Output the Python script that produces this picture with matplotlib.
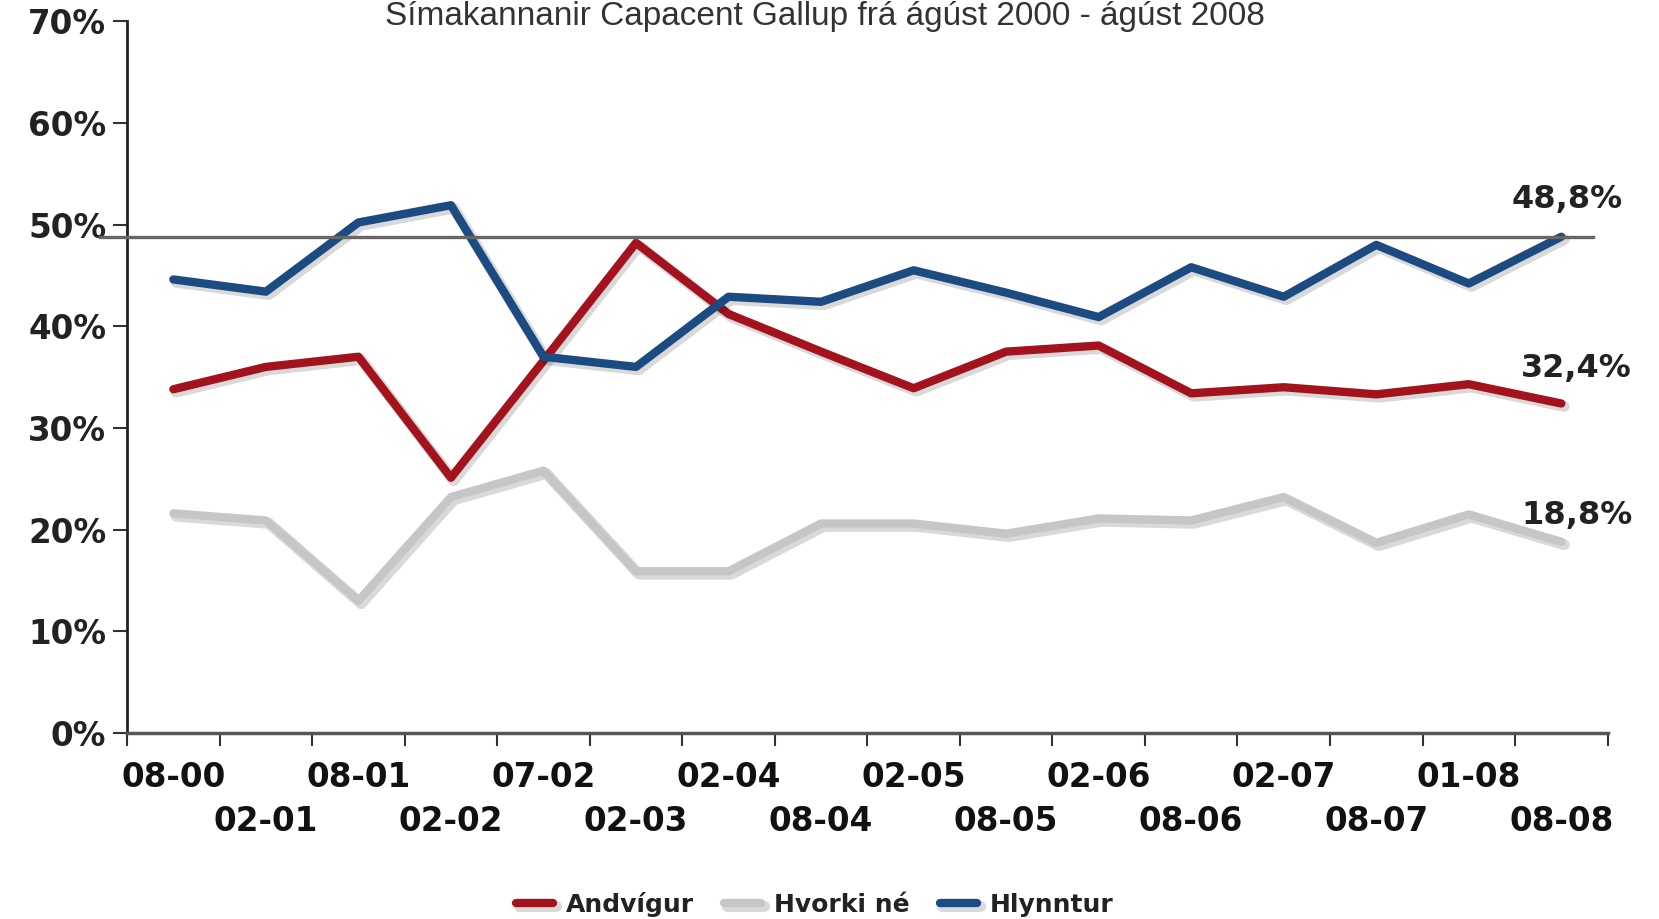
import matplotlib
matplotlib.use("Agg")
import matplotlib.pyplot as plt
import matplotlib.patheffects as pe
from matplotlib.transforms import blended_transform_factory
from matplotlib.ticker import FixedLocator

plt.rcParams['font.family'] = ['DejaVu Sans']

title = "Símakannanir Capacent Gallup frá ágúst 2000 - ágúst 2008"
categories = ["08-00", "02-01", "08-01", "02-02", "07-02", "02-03", "02-04", "08-04",
              "02-05", "08-05", "02-06", "08-06", "02-07", "08-07", "01-08", "08-08"]
andvigur = [33.8, 36.0, 37.0, 25.1, 36.6, 48.2, 41.2, 37.5, 33.9, 37.5, 38.1, 33.4, 34.0, 33.3, 34.3, 32.4]
hvorki = [21.6, 20.9, 13.0, 23.2, 25.8, 15.9, 15.9, 20.6, 20.6, 19.6, 21.1, 20.9, 23.2, 18.7, 21.5, 18.8]
hlynntur = [44.6, 43.4, 50.2, 51.9, 37.0, 36.0, 42.9, 42.4, 45.5, 43.3, 40.9, 45.8, 42.9, 48.0, 44.2, 48.8]
ref_value = 48.8
end_labels = ["48,8%", "32,4%", "18,8%"]
yticks = [0, 10, 20, 30, 40, 50, 60, 70]

fig = plt.figure(figsize=(16.59, 9.19), dpi=100)
ax = fig.add_axes([0.0766, 0.2024, 0.8924, 0.7746])

x = list(range(len(categories)))
shadow = [pe.SimpleLineShadow(offset=(2, -2), shadow_color='black', alpha=0.15, linewidth=8), pe.Normal()]

trans = blended_transform_factory(ax.transAxes, ax.transData)
ax.plot([-0.018, 0.99], [ref_value, ref_value], transform=trans, color='#666666', lw=2.4,
        clip_on=False, zorder=5)

l1, = ax.plot(x, andvigur, color='#a3131d', lw=6, solid_capstyle='round', solid_joinstyle='round',
              path_effects=shadow, label='Andvígur', zorder=3)
l2, = ax.plot(x, hvorki, color='#c6c6c6', lw=6, solid_capstyle='round', solid_joinstyle='round',
              path_effects=shadow, label='Hvorki né', zorder=3)
l3, = ax.plot(x, hlynntur, color='#1b4b80', lw=6, solid_capstyle='round', solid_joinstyle='round',
              path_effects=shadow, label='Hlynntur', zorder=4)

ax.set_xlim(-0.5, len(categories) - 0.5)
ax.set_ylim(0, 70)

for s in ['top', 'right']:
    ax.spines[s].set_visible(False)
ax.spines['left'].set_linewidth(2)
ax.spines['bottom'].set_linewidth(2.5)
ax.spines['left'].set_color('#222222')
ax.spines['bottom'].set_color('#555555')

ax.set_yticks(yticks)
ax.set_yticklabels([f"{v}%" for v in yticks], fontsize=23.5, fontweight='bold', color='#222222')
ax.tick_params(axis='y', length=10, width=1.5, pad=5, color='#333333')

# tick marks between categories
ax.xaxis.set_major_locator(FixedLocator([i - 0.5 for i in range(len(categories) + 1)]))
ax.set_xticklabels([""] * (len(categories) + 1))
ax.tick_params(axis='x', which='major', length=9, width=1.5, color='#333333')

# first row of labels (even categories)
even = x[0::2]
ax.xaxis.set_minor_locator(FixedLocator(even))
ax.set_xticklabels(categories[0::2], minor=True, fontsize=23.5, fontweight='bold', color='#111111')
ax.tick_params(axis='x', which='minor', length=0, pad=20)

# second row of labels (odd categories)
sec = ax.secondary_xaxis('bottom')
sec.spines['bottom'].set_visible(False)
sec.set_xticks(x[1::2])
sec.set_xticklabels(categories[1::2], fontsize=23.5, fontweight='bold', color='#111111')
sec.tick_params(axis='x', length=0, pad=52)

last = len(categories) - 1
ax.annotate(end_labels[0], (last, hlynntur[-1]), xytext=(4, 27), textcoords='offset points',
            ha='center', va='center', fontsize=23, fontweight='bold', color='#222222')
ax.annotate(end_labels[1], (last, andvigur[-1]), xytext=(11, 25), textcoords='offset points',
            ha='center', va='center', fontsize=23, fontweight='bold', color='#222222')
ax.annotate(end_labels[2], (last, hvorki[-1]), xytext=(11, 19), textcoords='offset points',
            ha='center', va='center', fontsize=23, fontweight='bold', color='#222222')

fig.text(0.497, 0.999, title, ha='center', va='top', fontsize=24, color='#333333',
         family=['Liberation Sans', 'DejaVu Sans'])

leg = fig.legend(handles=[l1, l2, l3], loc='lower center', bbox_to_anchor=(0.491, -0.022),
                 ncol=3, frameon=False, handlelength=1.5, handletextpad=0.5, columnspacing=1.2,
                 prop={'size': 18, 'weight': 'bold'})
for t in leg.get_texts():
    t.set_color('#222222')

fig.savefig("out.png", dpi=100)
